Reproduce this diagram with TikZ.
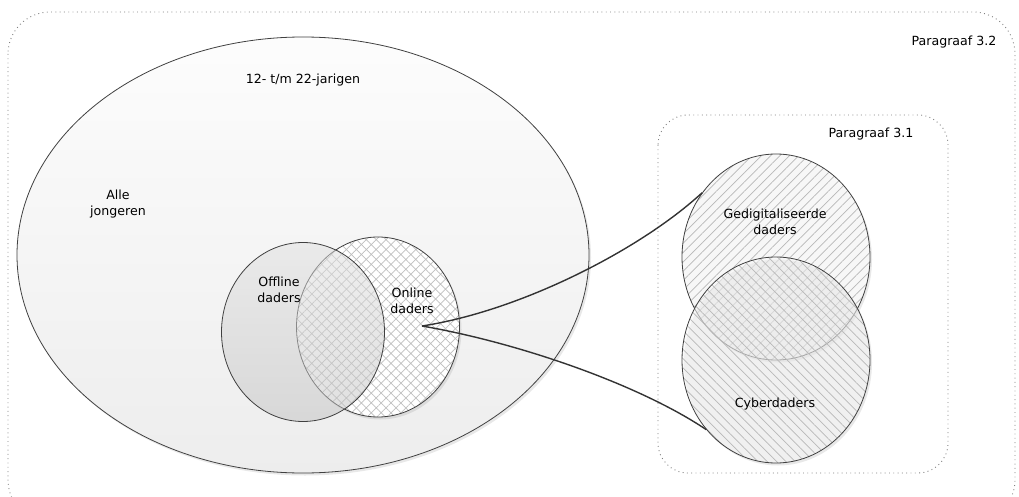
\documentclass[tikz,border=0pt]{standalone}
\usepackage{fontspec}
\setmainfont{DejaVu Sans}
\usetikzlibrary{shapes.geometric,patterns.meta,shadows}
\tikzset{
 blob/.style={ellipse, draw=black!75, line width=0.8pt, inner sep=0pt},
 lbl/.style={font=\fontsize{12.6}{16.5}\selectfont, align=center, text=black, inner sep=0pt},
 frame/.style={draw=black!50, line width=0.9pt, dash pattern=on 0.9pt off 3.4pt},
 link/.style={draw=black!80, line width=1.4pt},
 shd/.style={drop shadow={opacity=0.18, shadow xshift=2pt, shadow yshift=-2.5pt}},
}
\begin{document}
\begin{tikzpicture}[x=1pt,y=-1pt]
\useasboundingbox (0,0) rectangle (1019,497);
\clip (0,0) rectangle (1019,497);
\fill[white] (0,0) rectangle (1019,497);
\draw[frame, rounded corners=42pt] (8,12) rectangle (1015,522);
\draw[frame, rounded corners=30pt] (658,115) rectangle (948,473);

\node[blob, shd, minimum width=572pt, minimum height=436pt, top color=black!1, bottom color=black!7] (all) at (303,255) {};

\node[blob, shd, minimum width=163pt, minimum height=180pt, preaction={fill=white},
  pattern={Hatch[angle=45,distance=7pt,line width=0.7pt]}, pattern color=black!25] (on) at (378,327) {};
\node[blob, minimum width=163pt, minimum height=179pt, top color=black!12, bottom color=black!24, fill opacity=0.5] (off) at (303,332) {};

\node[blob, shd, minimum width=188pt, minimum height=206pt, preaction={fill=black!3},
  pattern={Lines[angle=45,distance=6.6pt,line width=0.7pt]}, pattern color=black!28] (gd) at (776,257) {};
\node[blob, shd, minimum width=188pt, minimum height=206pt, preaction={fill=black!3, fill opacity=0.55},
  pattern={Lines[angle=-45,distance=6.6pt,line width=0.7pt]}, pattern color=black!28] (cy) at (776,360) {};

\coordinate (src) at (422,326);
\draw[link] (src) .. controls (520,311) and (640,250) .. (gd.139);
\draw[link] (src) .. controls (520,343) and (640,385) .. (cy.225);

\node[lbl] (tp) at (303,80) {12- t/m 22-jarigen};
\node[lbl] (aj) at (118,204) {Alle\\jongeren};
\node[lbl] (tof) at (279,290) {Offline\\daders};
\node[lbl] (ton) at (412,301) {Online\\daders};
\node[lbl] (tgd) at (775,222) {Gedigitaliseerde\\daders};
\node[lbl] (tcy) at (775,404) {Cyberdaders};
\node[lbl] (p31) at (871,134) {Paragraaf 3.1};
\node[lbl] (p32) at (954,42) {Paragraaf 3.2};
\end{tikzpicture}
\end{document}
